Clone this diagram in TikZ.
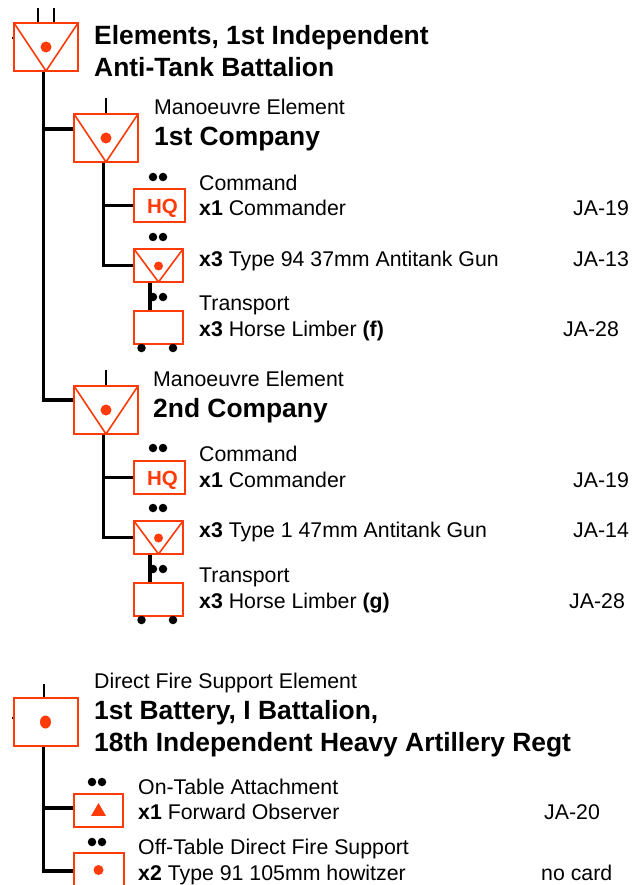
\documentclass[tikz,border=0pt]{standalone}
\usepackage{fontspec}
\setmainfont{Liberation Sans}
\usepackage{xcolor}
\usetikzlibrary{arrows.meta,positioning,shapes.geometric,calc}
\definecolor{unitred}{HTML}{FF3B0A}
\tikzset{
  unitbox/.style={draw=unitred,fill=white,line width=2pt,inner sep=0pt,
                  minimum width=#1,text=unitred},
  bigbox/.style={unitbox=64pt,minimum height=48pt},
  smallbox/.style={unitbox=49pt,minimum height=33pt},
  vmark/.style={path picture={
      \draw[unitred,line width=1.6pt] (path picture bounding box.north west)
        -- (path picture bounding box.south)
        -- (path picture bounding box.north east);}},
  spot/.style={circle,fill=unitred,inner sep=0pt,minimum size=#1},
  pip/.style={circle,fill=black,inner sep=0pt,minimum size=8.5pt},
  wheel/.style={circle,fill=black,inner sep=0pt,minimum size=8.5pt},
  wire/.style={line width=3.2pt,draw=black},
  tick/.style={line width=2.6pt,draw=black},
  lab/.style={anchor=base west,inner sep=0pt,font=\fontsize{21.3}{25}\selectfont},
  head/.style={anchor=base west,inner sep=0pt,font=\fontsize{26.4}{31}\selectfont\bfseries}
}
\begin{document}
\begin{tikzpicture}[x=1pt,y=-1pt]
    \path[use as bounding box,fill=white] (0,0) rectangle (632,885);

    % battalion
    \node[bigbox,vmark] (bn) at (46,47) {};
    \node[spot=11pt] (bnspot) at (bn.center) {};
    \coordinate (bntopa) at (38,8);
    \coordinate (bntopb) at (54,8);
    \coordinate (bnleft) at (12,38);
    \draw[tick] (bntopa) -- (bntopa |- bn.north);
    \draw[tick] (bntopb) -- (bntopb |- bn.north);
    \draw[tick] (bnleft) -- (bnleft -| bn.west);
    \node[head] (bntitlea) at (94,45) {Elements, 1st Independent};
    \node[head] (bntitleb) at (94,77) {Anti-Tank Battalion};

    % 1st company
    \node[bigbox,vmark] (coa) at (106,138) {};
    \node[spot=11pt] (coaspot) at (coa.center) {};
    \coordinate (coatop) at (106,98);
    \draw[tick] (coatop) -- (coatop |- coa.north);
    \node[lab] (coarole) at (154,115) {Manoeuvre Element};
    \node[head] (coatitle) at (154,146) {1st Company};

    \node[smallbox,minimum width=51pt] (hqa) at (159.5,205.5)
      {\raisebox{-8pt}[0pt][0pt]{\hspace{6pt}\fontsize{20.5}{24}\selectfont\bfseries HQ}};
    \node[smallbox,vmark] (ata) at (158.5,265.5) {};
    \node[spot=9pt] (ataspot) at (158.5,266) {};
    \node[smallbox] (lima) at (158.5,327) {};
    \node[lab] (hqarole) at (199,191) {Command};
    \node[lab] (hqatext) at (199,215) {\textbf{x1} Commander};
    \node[lab] (hqacard) at (573,215) {JA-19};
    \node[lab] (atatext) at (199,266) {\textbf{x3} Type 94 37mm Antitank Gun};
    \node[lab] (atacard) at (573,266) {JA-13};
    \node[lab] (limarole) at (199,310) {Transport};
    \node[lab] (limatext) at (199,336) {\textbf{x3} Horse Limber \textbf{(f)}};
    \node[lab] (limacard) at (563,336) {JA-28};

    % 2nd company
    \node[bigbox,vmark] (cob) at (106,410) {};
    \node[spot=11pt] (cobspot) at (cob.center) {};
    \coordinate (cobtop) at (106,370);
    \draw[tick] (cobtop) -- (cobtop |- cob.north);
    \node[lab] (cobrole) at (153,386) {Manoeuvre Element};
    \node[head] (cobtitle) at (153,417) {2nd Company};

    \node[smallbox,minimum width=51pt] (hqb) at (159.5,477.5)
      {\raisebox{-8pt}[0pt][0pt]{\hspace{6pt}\fontsize{20.5}{24}\selectfont\bfseries HQ}};
    \node[smallbox,vmark] (atb) at (158.5,537.5) {};
    \node[spot=9pt] (atbspot) at (158.5,538) {};
    \node[smallbox] (limb) at (158.5,599) {};
    \node[lab] (hqbrole) at (199,461) {Command};
    \node[lab] (hqbtext) at (199,487) {\textbf{x1} Commander};
    \node[lab] (hqbcard) at (573,487) {JA-19};
    \node[lab] (atbtext) at (199,537) {\textbf{x3} Type 1 47mm Antitank Gun};
    \node[lab] (atbcard) at (573,537) {JA-14};
    \node[lab] (limbrole) at (199,582) {Transport};
    \node[lab] (limbtext) at (199,608) {\textbf{x3} Horse Limber \textbf{(g)}};
    \node[lab] (limbcard) at (569,608) {JA-28};

    % wires of the battalion
    \draw[wire] ([xshift=-2.5pt]bn.south) |- ([yshift=9pt]coa.west);
    \draw[wire] ([xshift=-2.5pt]bn.south) |- ([yshift=10pt]cob.west);
    \draw[wire] ([xshift=-2.5pt]coa.south) |- (hqa.west);
    \draw[wire] ([xshift=-2.5pt]coa.south) |- (ata.west);
    \draw[wire] ([xshift=-2.5pt]cob.south) |- (hqb.west);
    \draw[wire] ([xshift=-2.5pt]cob.south) |- (atb.west);
    \draw[wire] ([xshift=-8.5pt]ata.south) -- ([xshift=-8.5pt]lima.north);
    \draw[wire] ([xshift=-8.5pt]atb.south) -- ([xshift=-8.5pt]limb.north);

    % pips and wheels
    \foreach \nm/\yy in {hqa/177,ata/237,hqb/448,atb/508}{
      \node[pip] (\nm pipa) at (153,\yy) {};
      \node[pip] (\nm pipb) at (163,\yy) {};
    }
    \foreach \nm/\yy in {lima/297,limb/569}{
      \node[pip] (\nm pipa) at (153,\yy) {};
      \node[pip] (\nm pipb) at (163,\yy) {};
      \node[wheel] (\nm wheela) at (141.5,\yy+51) {};
      \node[wheel] (\nm wheelb) at (173,\yy+51) {};
    }

    % battery
    \node[bigbox] (bty) at (45.5,722) {};
    \node[spot=11pt,ellipse,minimum height=13pt] (btyspot) at (bty.center) {};
    \coordinate (btytop) at (44,684);
    \coordinate (btyleft) at (12,718);
    \draw[tick] (btytop) -- (btytop |- bty.north);
    \draw[tick] (btyleft) -- (btyleft -| bty.west);
    \node[lab] (btyrole) at (94,688) {Direct Fire Support Element};
    \node[head] (btytitlea) at (94,719) {1st Battery, I Battalion,};
    \node[head] (btytitleb) at (94,751) {18th Independent Heavy Artillery Regt};

    \node[smallbox] (fo) at (98.5,810) {};
    \node[regular polygon,regular polygon sides=3,fill=unitred,inner sep=0pt,
          minimum size=17pt] (fomark) at (98.5,811.5) {};
    \node[unitbox=50pt,minimum height=36pt] (gun) at (99,871) {};
    \node[spot=10pt] (gunspot) at (98.5,870) {};
    \draw[wire] ([xshift=-2pt]bty.south) |- ([yshift=2pt]fo.west);
    \draw[wire] ([xshift=-2pt]bty.south) |- (gun.west);
    \foreach \nm/\yy in {fo/782,gun/842}{
      \node[pip] (\nm pipa) at (92,\yy) {};
      \node[pip] (\nm pipb) at (102,\yy) {};
    }
    \node[lab] (forole) at (138,794) {On-Table Attachment};
    \node[lab] (fotext) at (138,819) {\textbf{x1} Forward Observer};
    \node[lab] (focard) at (544,819) {JA-20};
    \node[lab] (gunrole) at (138,854) {Off-Table Direct Fire Support};
    \node[lab] (guntext) at (138,880) {\textbf{x2} Type 91 105mm howitzer};
    \node[lab] (guncard) at (541,880) {no card};
\end{tikzpicture}
\end{document}
